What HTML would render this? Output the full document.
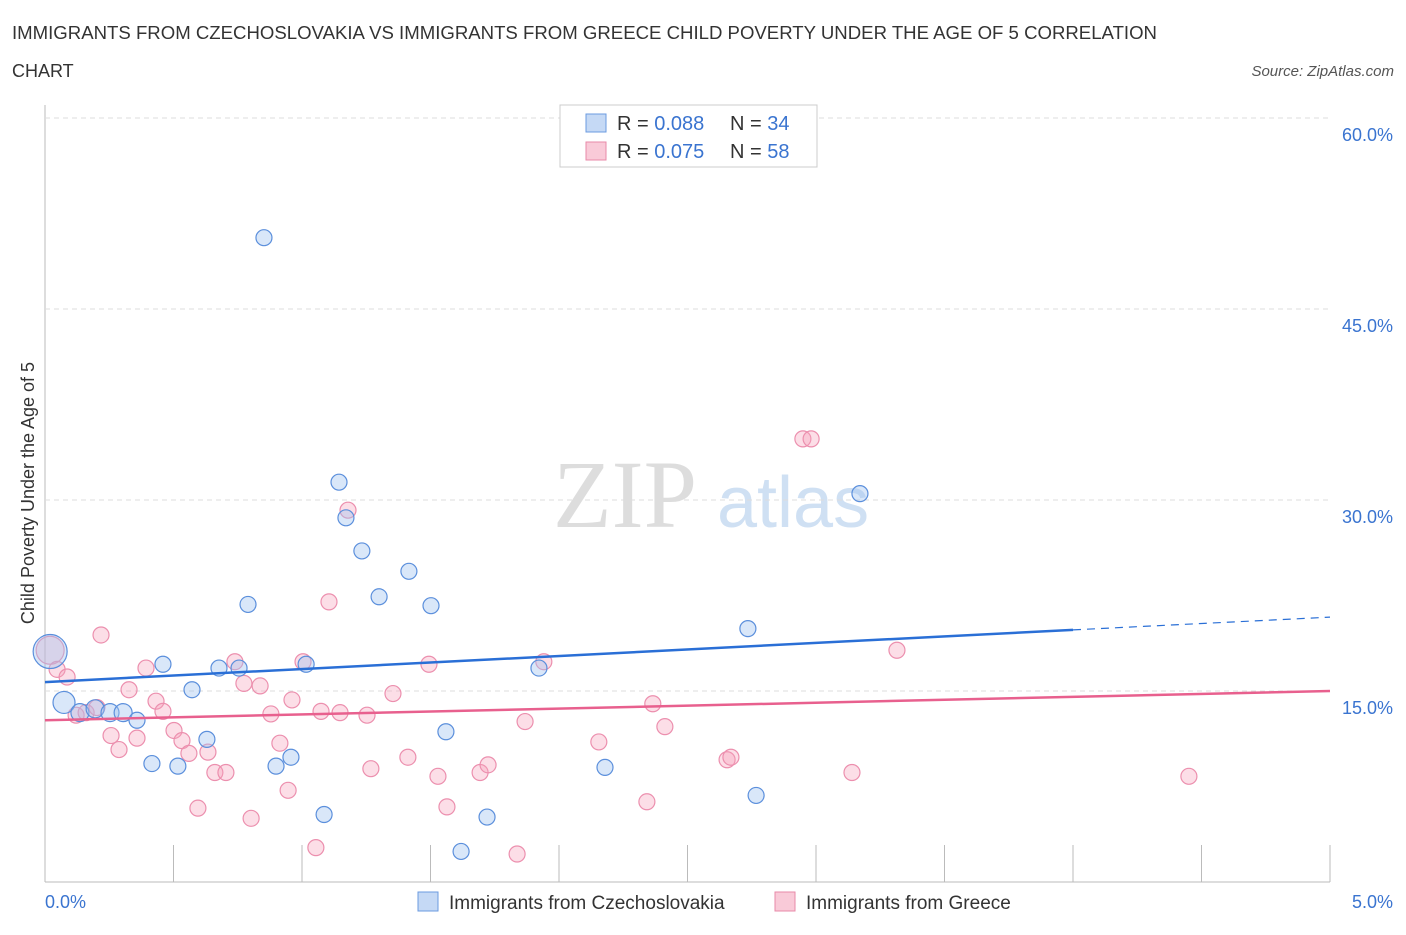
<!DOCTYPE html>
<html><head><meta charset="utf-8"><style>
body{margin:0;background:#fff;font-family:"Liberation Sans",sans-serif;}
</style></head><body>
<svg id="chart" width="1406" height="930" xmlns="http://www.w3.org/2000/svg">
<text x="12" y="39" font-size="18" fill="#333" textLength="1145" lengthAdjust="spacingAndGlyphs">IMMIGRANTS FROM CZECHOSLOVAKIA VS IMMIGRANTS FROM GREECE CHILD POVERTY UNDER THE AGE OF 5 CORRELATION</text>
<text x="12" y="77" font-size="18" fill="#333">CHART</text>
<text x="1394" y="76" font-size="15" fill="#555" font-style="italic" text-anchor="end">Source: ZipAtlas.com</text>
<text x="553" y="527" font-size="96" fill="#ddd" font-family="Liberation Serif">ZIP</text>
<text x="717" y="527" font-size="72" fill="#cfe0f3">atlas</text>
<text transform="translate(34,493) rotate(-90)" font-size="18" fill="#333" text-anchor="middle">Child Poverty Under the Age of 5</text>
<g id="grid"></g><g id="marks"></g>
<g>
<rect x="560" y="105" width="257" height="62" fill="#fff" stroke="#ccc"/>
<rect x="586" y="114" width="20" height="18" fill="#c5d9f5" stroke="#6b9be0"/>
<text x="617" y="130" font-size="20" fill="#333">R = <tspan fill="#3a74d0">0.088</tspan></text>
<text x="730" y="130" font-size="20" fill="#333">N = <tspan fill="#3a74d0">34</tspan></text>
<rect x="586" y="142" width="20" height="18" fill="#f9cad8" stroke="#e88aa8"/>
<text x="617" y="158" font-size="20" fill="#333">R = <tspan fill="#3a74d0">0.075</tspan></text>
<text x="730" y="158" font-size="20" fill="#333">N = <tspan fill="#3a74d0">58</tspan></text>
</g>
<g>
<rect x="418" y="892" width="20" height="19" fill="#c5d9f5" stroke="#6b9be0"/>
<text x="449" y="909" font-size="19" fill="#333">Immigrants from Czechoslovakia</text>
<rect x="775" y="892" width="20" height="19" fill="#f9cad8" stroke="#e88aa8"/>
<text x="806" y="909" font-size="19" fill="#333">Immigrants from Greece</text>
</g>
</svg>
<script>
const yTicks=[15,30,45,60];
const yTickLabels=["15.0%","30.0%","45.0%","60.0%"];
const xTickLabels=["0.0%","5.0%"];
const blueX=[0.02,0.074,0.136,0.195,0.253,0.304,0.358,0.416,0.459,0.517,0.572,0.630,0.677,0.755,0.790,0.852,0.899,0.957,1.016,1.086,1.144,1.171,1.233,1.300,1.416,1.502,1.560,1.619,1.720,1.922,2.179,2.735,2.767,3.171];
const blueY=[18.1,14.1,13.3,13.6,13.3,13.3,12.7,9.3,17.1,9.1,15.1,11.2,16.8,16.8,21.8,50.6,9.1,9.8,17.1,5.3,31.4,28.6,26.0,22.4,24.4,21.7,11.8,2.4,5.1,16.8,9.0,19.9,6.8,30.5];
const blueR=[17,11,9,9,9,9,8,8,8,8,8,8,8,8,8,8,8,8,8,8,8,8,8,8,8,8,8,8,8,8,8,8,8,8];
const pinkX=[0.02,0.047,0.086,0.121,0.160,0.202,0.218,0.257,0.288,0.327,0.358,0.393,0.432,0.459,0.502,0.533,0.560,0.595,0.634,0.661,0.704,0.739,0.774,0.802,0.837,0.879,0.914,0.946,0.961,1.004,1.054,1.074,1.105,1.148,1.179,1.253,1.268,1.354,1.412,1.494,1.529,1.564,1.693,1.724,1.837,1.868,1.941,2.155,2.342,2.365,2.412,2.654,2.669,2.949,2.981,3.140,3.315,4.451];
const pinkY=[18.2,16.7,16.1,13.1,13.3,13.7,19.4,11.5,10.4,15.1,11.3,16.8,14.2,13.4,11.9,11.1,10.1,5.8,10.2,8.6,8.6,17.3,15.6,5.0,15.4,13.2,10.9,7.2,14.3,17.3,2.7,13.4,22.0,13.3,29.2,13.1,8.9,14.8,9.8,17.1,8.3,5.9,8.6,9.2,2.2,12.6,17.3,11.0,6.3,14.0,12.2,9.6,9.8,34.8,34.8,8.6,18.2,8.3];
const blueLine=[15.7,19.8,20.8];
const pinkLine=[12.7,15.0];
const NS="http://www.w3.org/2000/svg";
const X0=45,X1=1330,Y0=882,PX=191/15;
const sx=v=>X0+(v/5)*(X1-X0);
const sy=v=>Y0-v*PX;
const grid=document.getElementById('grid'),marks=document.getElementById('marks');
function mk(tag,attrs,parent){const e=document.createElementNS(NS,tag);for(const k in attrs)e.setAttribute(k,attrs[k]);parent.appendChild(e);return e;}
let ax=mk('line',{x1:X0,y1:105,x2:X0,y2:Y0,stroke:'#bbb'},grid);


let bx=mk('line',{x1:X0,y1:Y0,x2:X1,y2:Y0,stroke:'#bbb'},grid);


for(let i=0;i<=10;i++){const x=sx(i*0.5);let t=mk('line',{x1:x,y1:845,x2:x,y2:Y0,stroke:'#bbb'},grid);

}
yTicks.forEach((v,i)=>{const y=sy(v);let g=mk('line',{x1:X0,y1:y,x2:X1,y2:y,stroke:'#ddd','stroke-dasharray':'5,4'},grid);


let t=mk('text',{x:1393,y:y+23,'font-size':18,fill:'#3a74d0','text-anchor':'end'},grid);t.textContent=yTickLabels[i];

});
let xl0=mk('text',{x:45,y:908,'font-size':18,fill:'#3a74d0'},grid);xl0.textContent=xTickLabels[0];


let xl1=mk('text',{x:1393,y:908,'font-size':18,fill:'#3a74d0','text-anchor':'end'},grid);xl1.textContent=xTickLabels[1];


pinkX.forEach((v,i)=>{let c=mk('circle',{cx:sx(v),cy:sy(pinkY[i]),r:i==0?14:8,fill:'rgba(245,160,185,0.35)',stroke:'#ec8fae','stroke-width':1.2},marks);

});
blueX.forEach((v,i)=>{let c=mk('circle',{cx:sx(v),cy:sy(blueY[i]),r:blueR[i],fill:'rgba(160,195,240,0.4)',stroke:'#5b8fdc','stroke-width':1.2},marks);

});
let bl=mk('line',{x1:sx(0),y1:sy(blueLine[0]),x2:sx(4),y2:sy(blueLine[1]),stroke:'#2a6fd6','stroke-width':2.5},marks);


let bd=mk('line',{x1:sx(4),y1:sy(blueLine[1]),x2:sx(5),y2:sy(blueLine[2]),stroke:'#2a6fd6','stroke-width':1.2,'stroke-dasharray':'8,6'},marks);


let pl=mk('line',{x1:sx(0),y1:sy(pinkLine[0]),x2:sx(5),y2:sy(pinkLine[1]),stroke:'#e8608e','stroke-width':2.5},marks);


</script>
</body></html>
